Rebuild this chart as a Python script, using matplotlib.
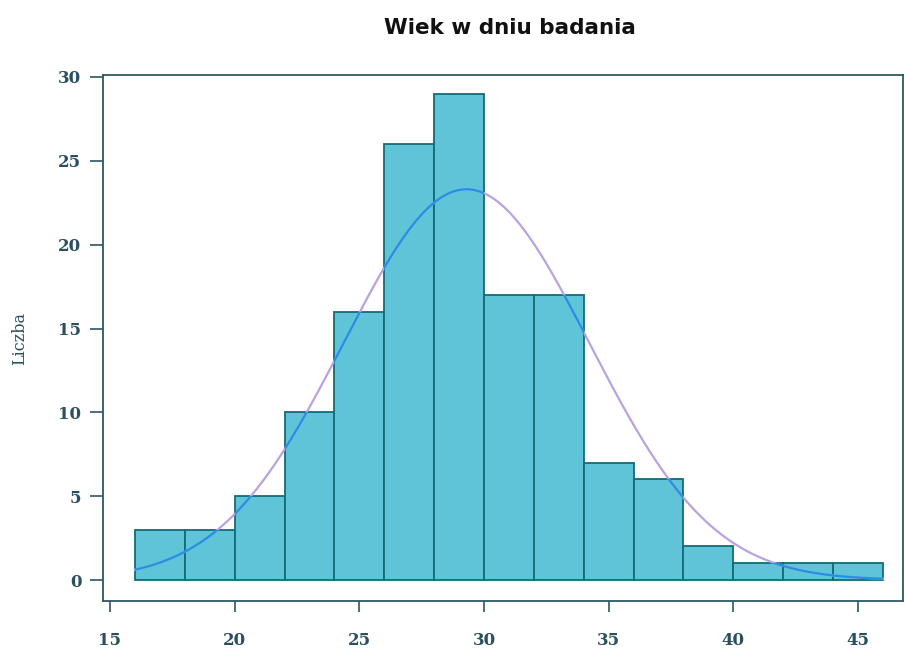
import numpy as np
import matplotlib.pyplot as plt

# histogram of age at examination
bin_edges = [16, 18, 20, 22, 24, 26, 28, 30, 32, 34, 36, 38, 40, 42, 44, 46]
counts = [3, 3, 5, 10, 16, 26, 29, 17, 17, 7, 6, 2, 1, 1, 1]
# fitted normal curve parameters
mean_age = 29.3
sd_age = 4.93
n_total = sum(counts)
bin_width = 2

x_ticks = [15, 20, 25, 30, 35, 40, 45]
y_ticks = [0, 5, 10, 15, 20, 25, 30]

axis_col = '#2f5866'
text_col = '#2a4f5e'
fill_col = '#5fc4d7'
edge_col = '#146b79'

fig = plt.figure(figsize=(9.05, 6.49), dpi=100)
ax = fig.add_axes([103/905, 1 - 601/649, 800/905, 526/649])

bars = ax.bar(bin_edges[:-1], counts, width=bin_width, align='edge',
              color=fill_col, edgecolor=edge_col, linewidth=1.3, zorder=2)

xs = np.linspace(bin_edges[0], bin_edges[-1], 400)
ys = n_total * bin_width / (sd_age * np.sqrt(2 * np.pi)) * np.exp(-0.5 * ((xs - mean_age) / sd_age) ** 2)
# lavender over the background, blue where it crosses the bars
ax.plot(xs, ys, color='#b9a2e2', lw=1.6, zorder=3)
for b in bars:
    ln, = ax.plot(xs, ys, color='#2191e4', lw=1.6, zorder=4)
    ln.set_clip_path(b)

ax.set_xlim(15 - 7/24.93, 15 + 793/24.93)
ax.set_ylim(-21/16.77, 30 + 2/16.77)
ax.set_xticks(x_ticks)
ax.set_yticks(y_ticks)

for s in ax.spines.values():
    s.set_color(axis_col)
    s.set_linewidth(1.3)

ax.tick_params(axis='y', direction='out', length=9.5, width=1.2, color=axis_col,
               labelcolor=text_col, pad=6)
ax.tick_params(axis='x', direction='out', length=8, width=1.2, color=axis_col,
               labelcolor=text_col, pad=14)
for lab in ax.get_xticklabels() + ax.get_yticklabels():
    lab.set_family('DejaVu Serif')
    lab.set_fontweight('bold')
    lab.set_fontsize(12)

fig.text(20/905, 1 - 338/649, 'Liczba', rotation=90, ha='center', va='center',
         family='DejaVu Serif', fontsize=11.5, color=text_col)
fig.text(510/905, 1 - 28/649, 'Wiek w dniu badania', ha='center', va='center',
         family='DejaVu Sans', fontweight='bold', fontsize=15.5, color='#111111')

fig.savefig('out.png', dpi=100)
